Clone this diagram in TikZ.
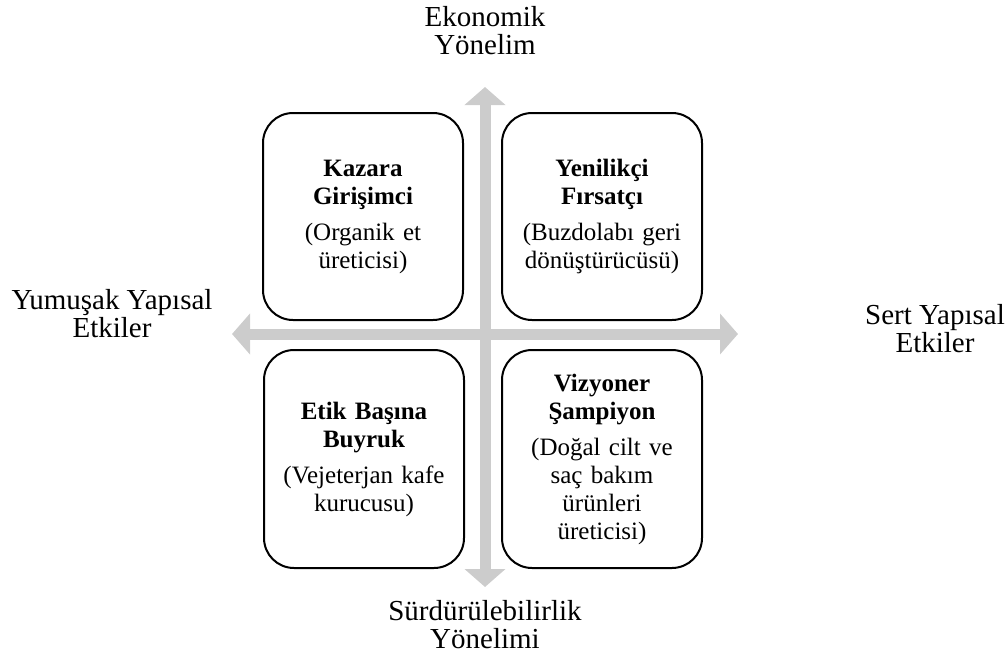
\documentclass[tikz,border=0pt]{standalone}
\usepackage{fontspec}
\setmainfont{Liberation Serif}
\usetikzlibrary{arrows.meta,positioning}

\begin{document}
\begin{tikzpicture}
	[x=0.5pt,y=-0.5pt,
	every node/.style={font=\fontsize{14.5}{14}\selectfont, align=center},
	quadrant/.style={draw, line width=1pt, rounded corners=15pt, fill=white, font=\fontsize{12.5}{14}\selectfont, text width=96pt, minimum width=100pt, inner sep=2pt},
	axis/.style={line width=5.5pt, black!20, {Triangle[width=20pt,length=9pt]}-{Triangle[width=20pt,length=9pt]}}]
	\useasboundingbox (0,0) rectangle (1008,659);
	% axes
	\coordinate (top) at (485,87);
	\coordinate (bottom) at (485,587);
	\coordinate (left) at (232,334);
	\coordinate (right) at (738,334);
	\draw[axis] (bottom) -- (top);
	\draw[axis] (left) -- (right);
	% quadrants
	\node[quadrant, minimum height=103.5pt] (kazara) at (363,216.5) {\textbf{Kazara}\\\textbf{Girişimci}\\[4pt](Organik et\\üreticisi)};
	\node[quadrant, minimum height=103.5pt] (yenilikci) at (602,216.5) {\textbf{Yenilikçi}\\\textbf{Fırsatçı}\\[4pt](Buzdolabı geri\\dönüştürücüsü)};
	\node[quadrant, minimum height=109pt] (etik) at (364,459) {\textbf{Etik Başına}\\\textbf{Buyruk}\\[4pt](Vejeterjan kafe\\kurucusu)};
	\node[quadrant, minimum height=109pt] (vizyoner) at (602,459) {\textbf{Vizyoner}\\\textbf{Şampiyon}\\[4pt](Doğal cilt ve\\saç bakım\\ürünleri\\üreticisi)};
	% axis labels
	\node (ekonomik) at (485,31) {Ekonomik\\Yönelim};
	\node (surdurulebilir) at (485,625) {Sürdürülebilirlik\\Yönelimi};
	\node (yumusak) at (112,314) {Yumuşak Yapısal\\Etkiler};
	\node (sert) at (935,329) {Sert Yapısal\\Etkiler};
\end{tikzpicture}
\end{document}
